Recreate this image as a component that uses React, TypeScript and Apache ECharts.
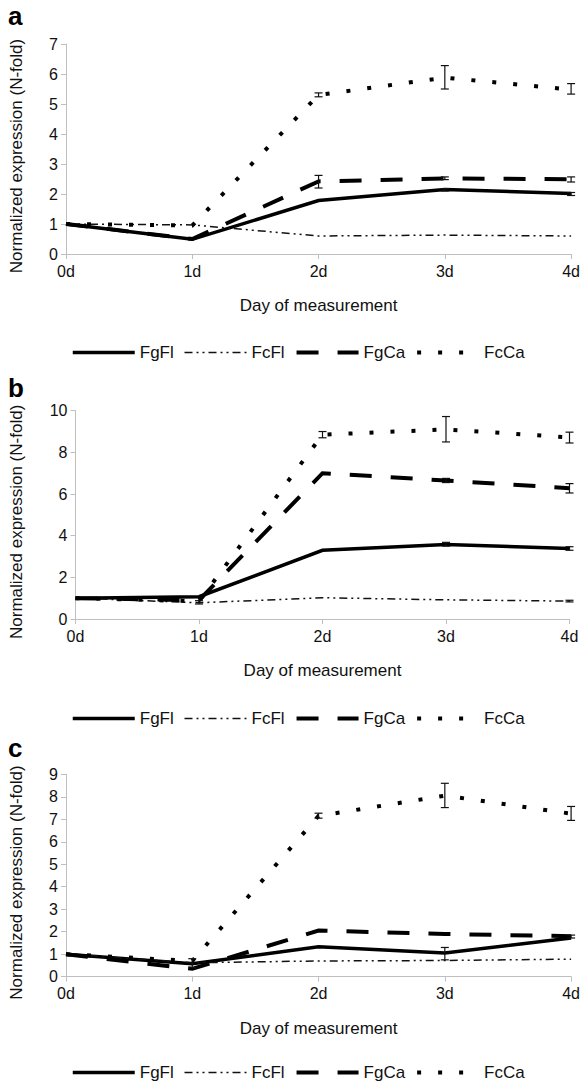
import React, { useEffect, useRef } from "react";
import * as echarts from "echarts";

// ---------- data ----------
const days = ["0d", "1d", "2d", "3d", "4d"];
const seriesNames = ["FgFl", "FcFl", "FgCa", "FcCa"];

// panel a
const aFgFl = [1.0, 0.49, 1.78, 2.15, 2.02];
const aFcFl = [1.0, 0.97, 0.6, 0.63, 0.6];
const aFgCa = [1.0, 0.5, 2.42, 2.52, 2.49];
const aFcCa = [1.0, 0.95, 5.3, 5.88, 5.48];
// [day index, low, high]
const aErr = [
  [2, 5.24, 5.37], [3, 5.5, 6.28], [4, 5.33, 5.68],
  [2, 2.2, 2.62], [3, 2.48, 2.57], [4, 2.4, 2.57],
  [3, 2.1, 2.18], [4, 1.95, 2.05],
];
const aTicks = { max: 7, interval: 1 };

// panel b
const bFgFl = [1.0, 1.07, 3.3, 3.58, 3.38];
const bFcFl = [1.0, 0.78, 1.02, 0.92, 0.86];
const bFgCa = [1.0, 0.9, 7.0, 6.65, 6.28];
const bFcCa = [1.0, 0.85, 8.85, 9.1, 8.72];
const bErr = [
  [2, 8.7, 9.0], [3, 8.5, 9.72], [4, 8.45, 8.97],
  [3, 6.55, 6.75], [4, 6.05, 6.5],
  [3, 3.5, 3.68], [4, 3.3, 3.47],
  [4, 0.82, 0.9], [1, 0.72, 0.88],
];
const bTicks = { max: 10, interval: 2 };

// panel c
const cFgFl = [1.0, 0.58, 1.33, 1.05, 1.72];
const cFcFl = [1.0, 0.62, 0.7, 0.72, 0.78];
const cFgCa = [1.0, 0.35, 2.05, 1.9, 1.8];
const cFcCa = [1.0, 0.7, 7.15, 8.05, 7.25];
const cErr = [
  [2, 7.05, 7.27], [3, 7.52, 8.6], [4, 6.95, 7.57],
  [3, 0.75, 1.3], [4, 1.72, 1.85], [1, 0.4, 0.8],
];
const cTicks = { max: 9, interval: 1 };

const panelLetters = ["a", "b", "c"];
const xName = "Day of measurement";
const yName = "Normalized expression (N-fold)";

// ---------- styles ----------
const FONT = "'Liberation Sans', Arial, Helvetica, sans-serif";
const lineStyles: any[] = [
  { color: "#000", width: 3.5, type: "solid" },
  { color: "#111", width: 1.5, type: [8, 4, 2, 4, 2, 4] },
  { color: "#000", width: 4, type: [22, 19] },
  { color: "#000", width: 4, type: [4, 17] },
];

const grids = [
  { left: 65, top: 44, width: 509, height: 210 },
  { left: 74.5, top: 410.7, width: 495, height: 208.3 },
  { left: 65, top: 774.3, width: 509, height: 202.4 },
];
const yNameGaps = [41, 50.5, 41];
const legendTops = [339, 705, 1059];
const letterY = [16, 388, 748];

export default function App() {
  const ref = useRef<HTMLDivElement>(null);

  useEffect(() => {
    if (!ref.current) return;
    const chart = echarts.init(ref.current, null, { renderer: "svg" });

    const panels = [
      { lines: [aFgFl, aFcFl, aFgCa, aFcCa], err: aErr, ticks: aTicks },
      { lines: [bFgFl, bFcFl, bFgCa, bFcCa], err: bErr, ticks: bTicks },
      { lines: [cFgFl, cFcFl, cFgCa, cFcCa], err: cErr, ticks: cTicks },
    ];

    const xAxis: any[] = [];
    const yAxis: any[] = [];
    const series: any[] = [];
    const legend: any[] = [];

    panels.forEach((p, i) => {
      xAxis.push({
        type: "category",
        gridIndex: i,
        data: days,
        boundaryGap: false,
        name: xName,
        nameLocation: "middle",
        nameGap: 43,
        nameTextStyle: { fontSize: 17, color: "#111", fontFamily: FONT },
        axisLine: { show: true, lineStyle: { color: "#bfbfbf", width: 1 } },
        axisTick: { show: true, alignWithLabel: true, length: 5, lineStyle: { color: "#bfbfbf" } },
        axisLabel: { fontSize: 16, color: "#111", margin: 9, fontFamily: FONT },
        splitLine: { show: false },
      });
      yAxis.push({
        type: "value",
        gridIndex: i,
        min: 0,
        max: p.ticks.max,
        interval: p.ticks.interval,
        name: yName,
        nameLocation: "middle",
        nameGap: yNameGaps[i],
        nameTextStyle: { fontSize: 17, color: "#111", fontFamily: FONT, padding: [0, 14, 0, 0] },
        axisLine: { show: true, lineStyle: { color: "#bfbfbf", width: 1 } },
        axisTick: { show: true, length: 5, lineStyle: { color: "#bfbfbf" } },
        axisLabel: { fontSize: 16, color: "#111", margin: 8, fontFamily: FONT },
        splitLine: { show: false },
      });
      p.lines.forEach((vals, k) => {
        series.push({
          type: "line",
          name: seriesNames[k],
          xAxisIndex: i,
          yAxisIndex: i,
          data: vals,
          symbol: "none",
          lineStyle: { ...lineStyles[k], cap: "butt", join: "miter" },
          itemStyle: { color: lineStyles[k].color },
          z: 2,
        });
      });
      series.push({
        type: "custom",
        name: "err" + i,
        xAxisIndex: i,
        yAxisIndex: i,
        data: p.err,
        encode: { x: 0, y: [1, 2] },
        z: 5,
        renderItem: (params: any, api: any) => {
          const x = api.value(0);
          const p1 = api.coord([x, api.value(1)]);
          const p2 = api.coord([x, api.value(2)]);
          const w = 4;
          const st = { stroke: "#111", lineWidth: 1.2 };
          return {
            type: "group",
            children: [
              { type: "line", shape: { x1: p1[0], y1: p1[1], x2: p2[0], y2: p2[1] }, style: st },
              { type: "line", shape: { x1: p1[0] - w, y1: p1[1], x2: p1[0] + w, y2: p1[1] }, style: st },
              { type: "line", shape: { x1: p2[0] - w, y1: p2[1], x2: p2[0] + w, y2: p2[1] }, style: st },
            ],
          };
        },
      });
      legend.push({
        left: 66,
        top: legendTops[i],
        itemWidth: 62,
        itemHeight: 14,
        itemGap: 10,
        textStyle: { fontSize: 17, color: "#111", fontFamily: FONT },
        selectedMode: false,
        data: seriesNames.map((n, k) => ({
          name: n,
          itemStyle: { opacity: 0, color: "rgba(0,0,0,0)", borderWidth: 0 },
          lineStyle: {
            color: lineStyles[k].color,
            width: lineStyles[k].width,
            type: lineStyles[k].type,
            cap: "butt",
            opacity: 1,
          },
        })),
      });
    });

    const graphic = panelLetters.map((l, i) => ({
      type: "text",
      left: 8,
      top: letterY[i] - 13,
      style: { text: l, font: `bold 26px ${FONT}`, fill: "#000" },
    }));

    chart.setOption({
      animation: false,
      backgroundColor: "#fff",
      textStyle: { fontFamily: FONT },
      grid: grids.map((g) => ({ ...g, containLabel: false })),
      xAxis,
      yAxis,
      series,
      legend,
      graphic,
    });

    return () => chart.dispose();
  }, []);

  return (
    <div
      ref={ref}
      style={{ position: "absolute", left: 0, top: 0, width: 583, height: 1084, background: "#fff" }}
    />
  );
}
